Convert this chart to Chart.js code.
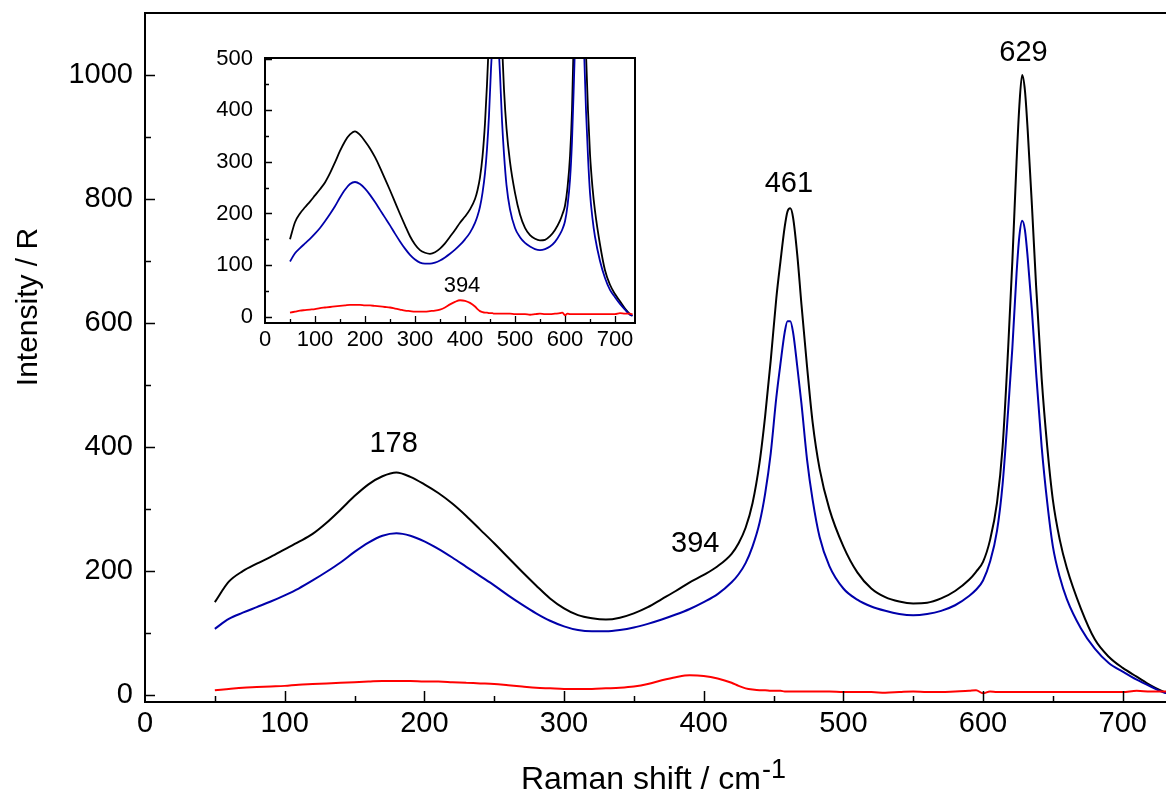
<!DOCTYPE html>
<html>
<head>
<meta charset="utf-8">
<script src="https://cdn.jsdelivr.net/npm/chart.js@4.4.1/dist/chart.umd.min.js"></script>
<style>
  html, body { margin: 0; padding: 0; background: #fff; }
  #wrap { position: relative; width: 1166px; height: 796px; }
  #main { position: absolute; left: 0; top: 0; }
  #inset { position: absolute; left: 200px; top: 40px; }
</style>
</head>
<body>
<div id="wrap">
  <canvas id="main" width="1166" height="796"></canvas>
  <canvas id="inset" width="450" height="330"></canvas>
</div>
<script>
// Raman shift (cm-1) shared by all three traces
const shift = [50, 60, 70, 80, 90, 100, 110, 120, 130, 140, 150, 160, 170, 180, 190, 200,
  210, 220, 230, 240, 250, 260, 270, 280, 290, 300, 310, 320, 330, 340, 350, 360, 370, 380,
  390, 400, 410, 420, 425, 430, 435, 440, 444, 448, 452, 455, 458, 460, 462, 464, 467, 470,
  474, 478, 483, 490, 500, 510, 520, 530, 540, 550, 560, 570, 580, 590, 595, 600, 605, 610,
  614, 618, 621, 624, 626, 628, 630, 632, 635, 638, 642, 646, 650, 655, 660, 670, 680, 690,
  700, 710, 720, 730, 735];

// black trace
const total = [150, 183, 200, 212, 223, 235, 247, 260, 278, 299, 321, 340, 353, 359, 352, 340,
  326, 309, 289, 267, 245, 222, 199, 177, 156, 140, 129, 124, 122, 125, 132, 142, 155, 168,
  182, 194, 208, 228, 245, 270, 310, 375, 450, 540, 640, 700, 755, 780, 785, 770, 710, 630,
  530, 440, 365, 300, 240, 198, 172, 158, 151, 148, 149, 156, 168, 186, 199, 215, 250, 310,
  400, 560, 700, 860, 950, 1000, 975, 910, 790, 660, 510, 400, 315, 250, 205, 140, 90, 62,
  44, 30, 16, 5, 2];

// blue trace
const majorPhase = [107, 123, 133, 142, 151, 161, 172, 185, 199, 214, 231, 246, 257, 261, 257, 248,
  236, 222, 207, 192, 177, 161, 146, 132, 120, 111, 105, 103, 103, 105, 109, 115, 122, 130,
  139, 150, 163, 182, 195, 213, 240, 278, 325, 390, 480, 535, 585, 603, 603, 585, 530, 470,
  380, 315, 255, 208, 172, 154, 143, 136, 131, 129, 131, 136, 145, 160, 170, 185, 215, 265,
  340, 460, 560, 680, 740, 765, 750, 705, 620, 520, 400, 310, 240, 190, 155, 108, 75, 52,
  38, 25, 14, 4, 2];

// red trace
const minorPhase = [8, 10, 12, 13, 14, 15, 17, 18, 19, 20, 21, 22, 23, 23, 23, 22,
  22, 21, 20, 19, 18, 16, 14, 12, 11, 10, 10, 10, 11, 12, 14, 18, 24, 29,
  32, 31, 27, 20, 15, 11, 9, 8, 8, 7, 7, 7, 6, 6, 6, 6, 6, 6,
  6, 6, 6, 6, 5, 5, 5, 4, 5, 6, 5, 5, 6, 7, 8, 3, 6, 5,
  5, 5, 5, 5, 5, 5, 5, 5, 5, 5, 5, 5, 5, 5, 5, 5, 5, 5,
  5, 7, 6, 6, 5];

const peakLabels = [178, 394, 461, 629];
const insetPeakLabels = [394];

const xTicksMain = { min: 0, max: 731, step: 100 };
const yTicksMain = { min: -11, max: 1100, step: 200 };
const xTicksInset = { min: 0, max: 740, step: 100 };
const yTicksInset = { min: -12, max: 501, step: 100 };

const FONT = '"Liberation Sans", Arial, Helvetica, sans-serif';
Chart.defaults.font.family = FONT;
Chart.defaults.color = "#000";

function series(values, color, width) {
  return {
    data: shift.map((s, i) => ({ x: s, y: values[i] })),
    borderColor: color,
    borderWidth: width,
    pointRadius: 0,
    fill: false,
    cubicInterpolationMode: "monotone",
  };
}

// inward tick marks, top/right frame and text labels
function makeFrame(cfg) {
  return {
    id: "frame",
    afterDraw(chart) {
      const { ctx, chartArea: a } = chart;
      const x = chart.scales.x;
      const y = chart.scales.y;
      ctx.save();
      ctx.strokeStyle = "#000";
      ctx.lineWidth = cfg.borderWidth;
      ctx.beginPath();
      ctx.moveTo(a.left - 1, a.top);
      ctx.lineTo(a.right + (cfg.right ? 1 : 0), a.top);
      if (cfg.right) {
        ctx.moveTo(a.right, a.top);
        ctx.lineTo(a.right, a.bottom);
      }
      ctx.stroke();

      ctx.lineWidth = cfg.tickWidth;
      ctx.beginPath();
      for (let v = cfg.xMinor; v < x.max; v += cfg.xMinor) {
        const p = Math.round(x.getPixelForValue(v)) + 0.5;
        const len = v % cfg.xMajor === 0 ? cfg.xMajorLen : cfg.xMinorLen;
        ctx.moveTo(p, a.bottom);
        ctx.lineTo(p, a.bottom - len);
      }
      for (let v = 0; v < y.max; v += cfg.yMinor) {
        const p = Math.round(y.getPixelForValue(v)) + 0.5;
        const len = v % cfg.yMajor === 0 ? cfg.yMajorLen : cfg.yMinorLen;
        ctx.moveTo(a.left, p);
        ctx.lineTo(a.left + len, p);
      }
      ctx.stroke();

      ctx.fillStyle = "#000";
      ctx.textAlign = "center";
      ctx.textBaseline = "alphabetic";
      ctx.font = cfg.noteFont;
      cfg.notes.forEach((n) => {
        ctx.fillText(String(n.x), x.getPixelForValue(n.x), y.getPixelForValue(n.y));
      });

      if (cfg.xTitle) {
        const t = cfg.xTitle;
        ctx.font = t.font;
        const w1 = ctx.measureText(t.text).width;
        ctx.font = t.supFont;
        const w2 = ctx.measureText(t.sup).width;
        const x0 = t.cx - (w1 + w2) / 2;
        ctx.textAlign = "left";
        ctx.font = t.font;
        ctx.fillText(t.text, x0, t.y);
        ctx.font = t.supFont;
        ctx.fillText(t.sup, x0 + w1 + 1, t.y - t.supRaise);
      }
      if (cfg.yTitle) {
        const t = cfg.yTitle;
        ctx.translate(t.x, t.cy);
        ctx.rotate(-Math.PI / 2);
        ctx.textAlign = "center";
        ctx.font = t.font;
        ctx.fillText(t.text, 0, 0);
      }
      ctx.restore();
    },
  };
}

function axes(xr, yr, o) {
  const tickOpts = (step, pad) => ({
    stepSize: step,
    includeBounds: false,
    maxRotation: 0,
    autoSkip: false,
    padding: pad,
    font: { size: o.tickSize },
    color: "#000",
    callback: (v) => String(v),
  });
  return {
    x: {
      type: "linear",
      min: xr.min,
      max: xr.max,
      border: { display: true, color: "#000", width: o.axisWidth },
      grid: { drawOnChartArea: false, drawTicks: false },
      ticks: tickOpts(xr.step, o.xPad),
      afterFit: (s) => {
        s.height = o.xHeight;
        s.paddingLeft = 0;
        s.paddingRight = 0;
      },
    },
    y: {
      type: "linear",
      min: yr.min,
      max: yr.max,
      border: { display: true, color: "#000", width: o.axisWidth },
      grid: { drawOnChartArea: false, drawTicks: false },
      ticks: tickOpts(yr.step, o.yPad),
      afterFit: (s) => {
        s.width = o.yWidth;
        s.paddingTop = 0;
        s.paddingBottom = 0;
      },
    },
  };
}

new Chart(document.getElementById("main"), {
  type: "line",
  data: {
    datasets: [
      series(minorPhase, "#ff0000", 2),
      series(majorPhase, "#0000aa", 2),
      series(total, "#000000", 2),
    ],
  },
  options: {
    responsive: false,
    animation: false,
    layout: { padding: { top: 13, right: 0, left: 0, bottom: 0 } },
    plugins: { legend: { display: false }, tooltip: { enabled: false } },
    scales: axes(xTicksMain, yTicksMain, {
      axisWidth: 2, tickSize: 29, xPad: 5, yPad: 12, xHeight: 94, yWidth: 145,
    }),
  },
  plugins: [
    makeFrame({
      borderWidth: 2, right: false, tickWidth: 1.5,
      xMinor: 50, xMajor: 100, xMajorLen: 11, xMinorLen: 6,
      yMinor: 100, yMajor: 200, yMajorLen: 10, yMinorLen: 6,
      noteFont: "29px " + FONT,
      notes: peakLabels.map((p, i) => ({ x: p, y: [392, 231, 811, 1023][i] })),
      xTitle: { text: "Raman shift / cm", sup: "-1", font: "32px " + FONT, supFont: "27px " + FONT, cx: 653, y: 789, supRaise: 11 },
      yTitle: { text: "Intensity / R", font: "30px " + FONT, x: 37, cy: 307 },
    }),
  ],
});

new Chart(document.getElementById("inset"), {
  type: "line",
  data: {
    datasets: [
      series(minorPhase, "#ff0000", 1.8),
      series(majorPhase, "#0000aa", 1.8),
      series(total, "#000000", 1.8),
    ],
  },
  options: {
    responsive: false,
    animation: false,
    layout: { padding: { top: 18, right: 15, left: 0, bottom: 0 } },
    plugins: { legend: { display: false }, tooltip: { enabled: false } },
    scales: axes(xTicksInset, yTicksInset, {
      axisWidth: 2, tickSize: 22, xPad: 4, yPad: 12, xHeight: 47, yWidth: 65,
    }),
  },
  plugins: [
    makeFrame({
      borderWidth: 2, right: true, tickWidth: 1.3,
      xMinor: 50, xMajor: 100, xMajorLen: 7, xMinorLen: 4,
      yMinor: 50, yMajor: 100, yMajorLen: 7, yMinorLen: 4,
      noteFont: "22px " + FONT,
      notes: insetPeakLabels.map((p) => ({ x: p, y: 48 })),
    }),
  ],
});
</script>
</body>
</html>
